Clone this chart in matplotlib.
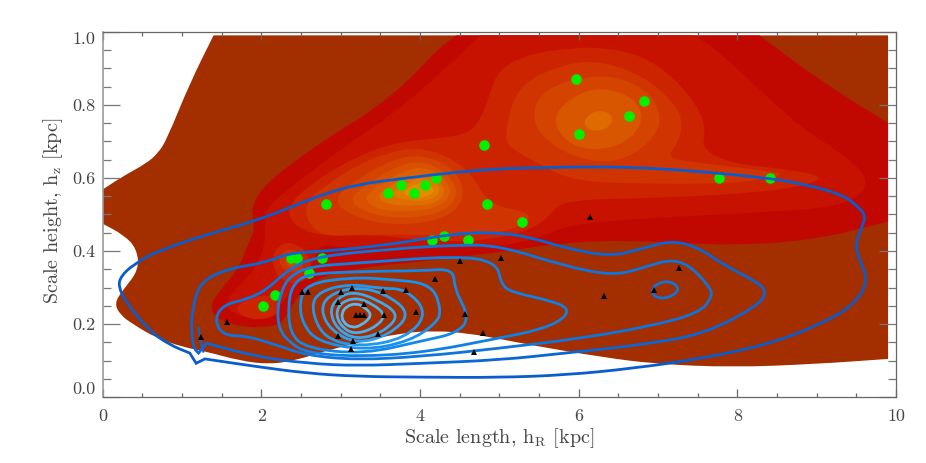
import numpy as np
import matplotlib
matplotlib.use("Agg")
import matplotlib.pyplot as plt
from matplotlib.path import Path
from matplotlib.patches import PathPatch

plt.rcParams['font.family'] = ['cmr10', 'DejaVu Serif']
plt.rcParams['mathtext.fontset'] = 'cm'
plt.rcParams['axes.formatter.use_mathtext'] = True
plt.rcParams['axes.unicode_minus'] = False

# scale length / scale height samples
green_hr = [2.02, 2.17, 2.38, 2.45, 2.60, 2.77, 2.82, 3.60, 3.76, 3.92, 4.06, 4.20, 4.15, 4.30, 4.61, 4.81, 4.84, 5.29, 5.97, 6.00, 6.63, 6.83, 7.77, 8.41]
green_hz = [0.25, 0.28, 0.38, 0.38, 0.34, 0.38, 0.53, 0.56, 0.58, 0.56, 0.58, 0.60, 0.43, 0.44, 0.43, 0.69, 0.53, 0.48, 0.87, 0.72, 0.77, 0.81, 0.60, 0.60]
tri_hr = [1.24, 1.57, 2.52, 2.59, 2.97, 3.01, 3.15, 3.30, 3.20, 3.24, 3.29, 3.55, 3.53, 3.82, 3.95, 2.97, 3.16, 3.13, 3.47, 4.19, 4.51, 5.02, 4.57, 4.79, 4.68, 6.14, 6.32, 6.95, 7.26]
tri_hz = [0.164, 0.207, 0.288, 0.288, 0.260, 0.287, 0.300, 0.254, 0.225, 0.225, 0.225, 0.225, 0.290, 0.294, 0.232, 0.169, 0.153, 0.132, 0.173, 0.324, 0.372, 0.381, 0.228, 0.175, 0.124, 0.494, 0.276, 0.294, 0.353]

# filled density bands, outermost first (doubled points are corners)
band0 = [(0, .568), (0, .568), (.26, .605), (.555, .64), (.70, .668), (.81, .705), (1.10, .859), (1.40, .99), (1.40, .99), (9.9, .99), (9.9, .99), (9.9, .105), (9.9, .105), (8.99, .091), (7.94, .082), (6.97, .091), (6.26, .111), (5.42, .142), (5.0, .16), (4.6, .175), (4.21, .182), (3.75, .176), (3.2, .148), (2.78, .125), (2.45, .102), (2.11, .09), (1.73, .10), (1.31, .125), (1.02, .137), (.68, .162), (.39, .199), (.22, .226), (.15, .258), (.26, .294), (.46, .349), (.43, .408), (.26, .445), (0, .475), (0, .475)]
band1 = [(4.46, .99), (4.46, .99), (8.28, .99), (8.28, .99), (9.03, .868), (9.9, .75), (9.9, .75), (9.9, .481), (9.9, .481), (9.0, .431), (7.94, .415), (7.1, .425), (6.26, .429), (5.63, .417), (5.0, .397), (4.04, .372), (3.2, .353), (2.7, .326), (2.45, .276), (2.32, .221), (2.19, .192), (1.73, .192), (1.42, .218), (1.35, .253), (1.52, .303), (1.73, .358), (1.82, .413), (1.92, .458), (1.89, .486), (1.89, .532), (2.07, .586), (2.45, .65), (2.87, .714), (3.41, .786), (3.87, .868), (4.21, .95)]
band2 = [(4.76, .99), (4.76, .99), (7.44, .99), (7.44, .99), (7.69, .96), (8.24, .85), (8.78, .741), (9.37, .659), (9.65, .6), (9.55, .55), (9.2, .52), (8.4, .507), (7.5, .497), (6.5, .485), (5.85, .47), (5.55, .44), (5.1, .415), (4.5, .41), (3.8, .41), (3.0, .41), (2.75, .42), (2.65, .37), (2.55, .33), (2.4, .30), (2.2, .235), (1.9, .215), (1.6, .23), (1.55, .265), (1.75, .31), (1.95, .36), (2.05, .42), (2.05, .47), (2.05, .515), (2.28, .558), (2.7, .63), (3.25, .715), (3.75, .79), (4.25, .885)]
band3 = [(5.0, .9), (5.4, .94), (5.9, .955), (6.3, .957), (6.8, .935), (7.2, .875), (7.52, .79), (7.6, .73), (7.55, .68), (7.9, .64), (8.7, .622), (9.15, .6), (8.57, .565), (7.1, .545), (5.8, .541), (5.63, .495), (5.4, .46), (5.1, .44), (4.6, .425), (4.0, .43), (3.4, .445), (2.75, .44), (2.42, .468), (2.32, .514), (2.53, .568), (3.03, .64), (3.62, .695), (4.21, .708), (4.59, .72), (4.76, .755), (4.88, .83)]
band4 = [(5.07, .723), (5.23, .855), (5.84, .914), (6.3, .92), (6.85, .875), (7.2, .805), (7.31, .76), (7.27, .7), (7.1, .655), (7.5, .642), (8.2, .624), (8.68, .609), (7.94, .584), (6.68, .584), (5.9, .593), (5.42, .648), (5.11, .686)]
band5 = [(5.39, .75), (5.53, .845), (6.3, .888), (6.87, .845), (7.07, .76), (6.87, .687), (6.4, .636), (5.78, .667)]
band6 = [(5.66, .765), (5.93, .825), (6.3, .849), (6.7, .82), (6.83, .76), (6.62, .697), (6.2, .673), (5.83, .697)]
band7 = [(6.04, .757), (6.25, .79), (6.46, .767), (6.36, .732), (6.14, .727)]
# hz ~ 0.6 peak
peak0 = [(2.55, .531), (2.82, .581), (3.2, .634), (3.58, .668), (3.96, .684), (4.34, .662), (4.66, .61), (4.8, .55), (5.0, .52), (5.42, .505), (5.3, .465), (4.7, .44), (3.9, .445), (3.3, .445), (2.78, .44), (2.58, .48)]
peak1 = [(2.87, .535), (3.2, .595), (3.62, .648), (4.0, .665), (4.4, .632), (4.58, .567), (4.44, .5), (3.92, .47), (3.3, .48)]
peak2 = [(3.08, .54), (3.37, .59), (3.71, .632), (4.0, .648), (4.33, .618), (4.49, .563), (4.36, .512), (3.92, .488), (3.38, .498)]
peak3 = [(3.27, .544), (3.54, .59), (3.79, .618), (4.02, .632), (4.28, .608), (4.41, .563), (4.27, .521), (3.92, .507), (3.48, .511)]
peak4 = [(3.44, .554), (3.79, .6), (4.02, .615), (4.24, .594), (4.33, .563), (4.21, .53), (3.92, .523), (3.56, .528)]
peak5 = [(3.6, .554), (3.88, .591), (4.04, .602), (4.22, .585), (4.26, .563), (4.15, .54), (3.88, .536)]
peak6 = [(3.76, .563), (3.96, .586), (4.11, .586), (4.2, .563), (4.06, .546), (3.88, .546)]
# small lobes near hR ~ 2.3
lobe1 = [(2.13, .39), (2.3, .43), (2.57, .405), (2.65, .34), (2.45, .305), (2.18, .33)]
lobe2 = [(2.2, .38), (2.35, .41), (2.53, .39), (2.53, .345), (2.3, .34)]
lobe3 = [(2.28, .375), (2.4, .395), (2.5, .37), (2.38, .35)]
lobe4 = [(1.63, .245), (1.95, .28), (2.22, .275), (2.22, .22), (1.85, .21)]

# blue contours
line1 = [(1.18, .093), (1.18, .093), (1.29, .105), (1.29, .105), (1.94, .084), (2.57, .066), (3.2, .057), (4.04, .055), (5.0, .054), (5.84, .061), (6.68, .079), (7.52, .105), (8.36, .143), (8.99, .194), (9.45, .248), (9.66, .317), (9.52, .385), (9.49, .422), (9.59, .477), (9.61, .495), (9.56, .514), (9.33, .555), (8.78, .586), (8.36, .6), (7.52, .618), (6.89, .627), (6.26, .631), (5.42, .628), (5.0, .625), (4.46, .616), (3.83, .6), (3.2, .582), (2.78, .555), (2.45, .527), (1.94, .483), (1.31, .445), (.68, .399), (.39, .363), (.23, .331), (.2, .303), (.3, .258), (.6, .18), (.85, .143), (1.1, .121), (1.1, .121)]
line2 = [(1.13, .239), (1.23, .317), (1.6, .353), (2.03, .367), (2.36, .395), (2.78, .399), (3.62, .417), (4.46, .449), (5.0, .451), (5.42, .436), (5.84, .408), (6.39, .385), (6.76, .404), (7.18, .43), (7.52, .408), (7.86, .358), (8.28, .312), (8.37, .285), (8.24, .248), (7.6, .175), (6.89, .146), (5.84, .121), (5.0, .102), (4.04, .093), (3.2, .086), (2.57, .093), (1.94, .111), (1.31, .148), (1.31, .148), (1.21, .121), (1.21, .121), (1.15, .134), (1.12, .184)]
spike_x = [1.21, 1.24, 1.27]
spike_y = [.19, .15, .125]
line3 = [(1.41, .212), (1.52, .253), (1.82, .268), (2.07, .294), (2.36, .353), (2.7, .385), (3.6, .405), (4.46, .417), (5.0, .415), (5.84, .358), (6.43, .333), (6.8, .353), (7.14, .377), (7.39, .363), (7.65, .303), (7.69, .276), (7.52, .23), (6.89, .194), (6.05, .162), (5.0, .134), (4.04, .112), (3.2, .102), (2.57, .115), (2.19, .143), (1.82, .168), (1.52, .169)]
line4 = [(2.2, .239), (2.26, .294), (2.36, .331), (2.61, .358), (3.2, .367), (4.46, .387), (4.97, .37), (5.03, .303), (5.21, .285), (5.63, .265), (5.88, .244), (5.8, .212), (5.5, .184), (5.0, .162), (4.04, .122), (3.2, .111), (2.57, .122), (2.36, .15), (2.23, .184)]
line5 = [(2.34, .258), (2.4, .308), (2.57, .337), (3.2, .344), (4.04, .346), (4.42, .352), (4.44, .294), (4.63, .216), (4.46, .175), (4.04, .155), (3.29, .118), (2.57, .134), (2.36, .175)]
line6 = [(2.48, .258), (2.57, .31), (3.12, .328), (3.62, .323), (4.15, .31), (4.27, .239), (4.21, .203), (3.87, .153), (3.29, .128), (2.7, .153), (2.52, .203)]
line7 = [(2.62, .248), (2.74, .291), (3.12, .31), (3.5, .298), (3.83, .296), (4.1, .23), (3.83, .162), (3.24, .137), (2.78, .162)]
line8 = [(2.75, .239), (2.84, .278), (3.16, .302), (3.54, .287), (3.89, .23), (3.62, .171), (3.2, .146), (2.87, .184)]
line9 = [(2.86, .239), (2.97, .273), (3.16, .289), (3.45, .269), (3.75, .226), (3.54, .178), (3.2, .157), (2.95, .187)]
line10 = [(2.94, .23), (3.01, .26), (3.2, .273), (3.41, .255), (3.58, .223), (3.41, .187), (3.16, .172), (3.0, .196)]
line11 = [(3.01, .23), (3.08, .25), (3.2, .257), (3.31, .246), (3.4, .223), (3.26, .196), (3.14, .19), (3.03, .205)]
line12 = [(6.91, .285), (6.97, .31), (7.14, .319), (7.28, .299), (7.18, .276), (7.02, .269)]

band_list = [(band0, '#a32e00'), (band1, '#c00800'), (band2, '#c81200'), (lobe4, '#cc2400'),
             (band3, '#cc2400'), (band4, '#d03400'), (band5, '#d44400'), (band6, '#d85600'), (band7, '#de6a00'),
             (lobe1, '#cc2400'), (lobe2, '#d03400'), (lobe3, '#d44400'),
             (peak0, '#d03400'), (peak1, '#d44400'), (peak2, '#d85000'), (peak3, '#dc5e00'),
             (peak4, '#de6e00'), (peak5, '#e27c00'), (peak6, '#e68c00')]
line_list = [(line1, '#0a5ccc'), (line2, '#0a66d4'), (line12, '#0f74dc'), (line3, '#0f74dc'), (line4, '#1080e4'),
             (line5, '#1488ea'), (line6, '#1890f0'), (line7, '#2098f0'), (line8, '#2ca0f0'),
             (line9, '#38a8f0'), (line10, '#48b0f0'), (line11, '#58b8f0')]


def smooth_path(pts):
    # closed quadratic path through the midpoints, doubled points stay sharp
    pts = np.asarray(pts, dtype=float)
    mids = 0.5 * (pts + np.roll(pts, -1, axis=0))
    verts = [mids[-1]]
    codes = [Path.MOVETO]
    for p, m in zip(pts, mids):
        verts += [p, m]
        codes += [Path.CURVE3, Path.CURVE3]
    return Path(verts, codes)


fig = plt.figure(figsize=(9.26, 4.63), dpi=100)
ax = fig.add_axes([102.5 / 926, 1 - 397.3 / 463, (896 - 102.5) / 926, (397.3 - 31.7) / 463])

for pts, col in band_list:
    ax.add_patch(PathPatch(smooth_path(pts), facecolor=col, edgecolor='none', zorder=1))

ax.plot(green_hr, green_hz, 'o', color='#00f000', ms=7.6, mew=0, zorder=2)

for pts, col in line_list:
    ax.add_patch(PathPatch(smooth_path(pts), facecolor='none', edgecolor=col, lw=2.0, zorder=3))
ax.plot(spike_x, spike_y, color='#0a66d4', lw=1.5, zorder=3)

ax.plot(tri_hr, tri_hz, '^', color='black', ms=4.8, mew=0, zorder=4)

ax.set_xlim(0, 10)
ax.set_ylim(0, 1)
ax.set_xticks(np.arange(0, 11, 2))
ax.set_xticks(np.arange(0, 10.1, 0.5), minor=True)
ax.set_yticks(np.arange(0, 1.01, 0.2))
ax.set_yticks(np.arange(0, 1.001, 0.05), minor=True)
ax.set_xticklabels(['0', '2', '4', '6', '8', '10'])
ax.set_yticklabels(['0.0', '0.2', '0.4', '0.6', '0.8', '1.0'])
ax.tick_params(axis='x', which='major', direction='in', top=True, length=6, width=0.9, color='#666666', labelsize=13, labelcolor='#444444', pad=8)
ax.tick_params(axis='x', which='minor', direction='in', top=True, length=3, width=0.9, color='#666666')
ax.tick_params(axis='y', which='major', direction='in', right=True, length=12, width=0.9, color='#777777', labelsize=13, labelcolor='#444444', pad=5)
ax.tick_params(axis='y', which='minor', direction='in', right=True, length=6, width=0.9, color='#777777')
ylabs = ax.get_yticklabels()
ylabs[0].set_va('bottom')
ylabs[-1].set_va('top')
for s in ax.spines.values():
    s.set_color('#666666')
    s.set_linewidth(0.9)
ax.spines['left'].set_color('#999999')
ax.spines['left'].set_linewidth(1.2)

ax.set_xlabel(r'Scale length, h$_{\rm R}$ [kpc]', fontsize=14.5, color='#444444', labelpad=2)
ax.set_ylabel(r'Scale height, h$_{\rm z}$ [kpc]', fontsize=14.5, color='#444444', labelpad=5, y=0.51)

fig.savefig('out.png', dpi=100)
